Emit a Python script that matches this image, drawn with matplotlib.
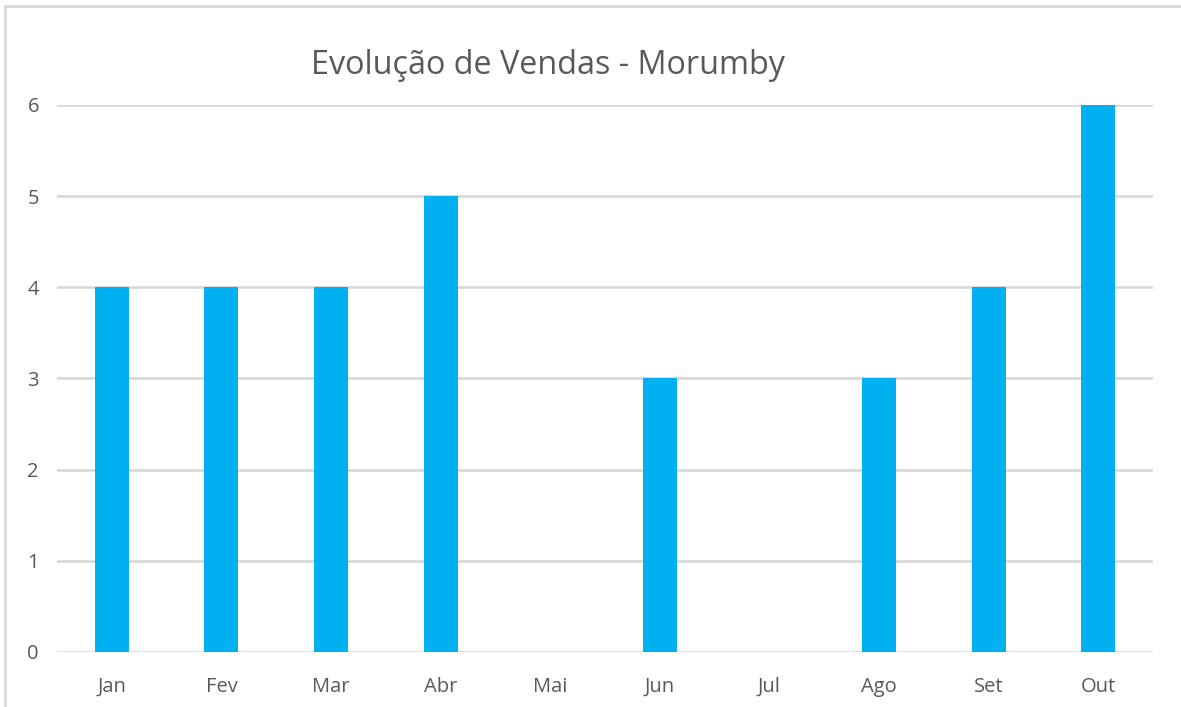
import numpy as np
import matplotlib.pyplot as plt
from matplotlib.patches import Rectangle

# dados do gráfico
meses = ["Jan", "Fev", "Mar", "Abr", "Mai", "Jun", "Jul", "Ago", "Set", "Out"]
vendas = [4, 4, 4, 5, 0, 3, 0, 3, 4, 6]
y_ticks = [0, 1, 2, 3, 4, 5, 6]

plt.rcParams['font.family'] = ['Open Sans', 'DejaVu Sans']
cinza = '#595959'

fig = plt.figure(figsize=(11.81, 7.07), dpi=100)
ax = fig.add_axes([0.0483, 0.0778, 0.928, 0.7737])

x = np.arange(len(meses))
ax.bar(x, vendas, width=0.31, color='#00B0F0', zorder=3)

ax.set_xlim(-0.5, len(meses) - 0.5)
ax.set_ylim(0, 6)
ax.set_yticks(y_ticks)
ax.set_xticks(x)
ax.set_xticklabels(meses)
ax.yaxis.grid(True, color='#D9D9D9', linewidth=2, zorder=0)
ax.tick_params(axis='both', length=0, labelsize=14.5, colors=cinza)
ax.tick_params(axis='x', pad=18)
ax.tick_params(axis='y', pad=13)
for s in ax.spines.values():
    s.set_visible(False)

fig.text(548 / 1181, 1 - 65 / 707, "Evolução de Vendas - Morumby", ha='center', va='center',
         fontsize=23.3, color=cinza)

# borda do gráfico (cortada à direita e embaixo)
fig.patches.append(Rectangle((5 / 1181, -0.1), 1.2, 1.1 - 6 / 707, transform=fig.transFigure,
                             fill=False, edgecolor='#D9D9D9', linewidth=2))

fig.savefig("out.png", dpi=100)
